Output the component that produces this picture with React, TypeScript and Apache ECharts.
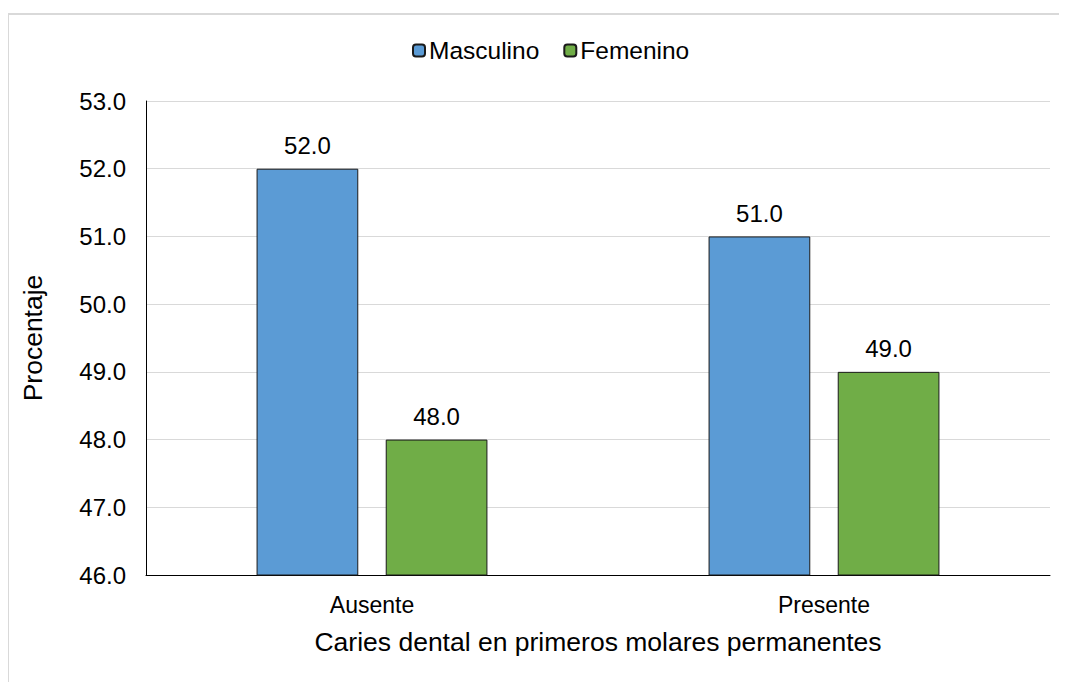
import React, { useEffect, useRef } from "react";
import * as echarts from "echarts";

const categories = ["Ausente", "Presente"];
const masculino = [52.0, 51.0];
const femenino = [48.0, 49.0];
const seriesNames = ["Masculino", "Femenino"];
const yMin = 46;
const yMax = 53;
const yInterval = 1;

export default function App() {
  const ref = useRef<HTMLDivElement>(null);
  useEffect(() => {
    if (!ref.current) return;
    const chart = echarts.init(ref.current, null, { renderer: "svg" });
    const font = "Liberation Sans, Arial, sans-serif";
    const label = {
      show: true,
      position: "top",
      distance: 11,
      fontSize: 24,
      fontFamily: font,
      color: "#000",
      formatter: (p: any) => Number(p.value).toFixed(1),
    };
    chart.setOption({
      animation: false,
      textStyle: { fontFamily: font },
      graphic: [
        {
          type: "rect",
          shape: { x: 0, y: 6, width: 1200, height: 800 },
          style: { fill: "none", stroke: "#d9d9d9", lineWidth: 2 },
          silent: true,
        },
      ],
      legend: {
        top: 30,
        left: 404,
        padding: 0,
        itemWidth: 12,
        itemHeight: 12,
        itemGap: 24,
        textStyle: { fontSize: 24.5, color: "#000", fontFamily: font, padding: [0, 0, 0, -1] },
        data: seriesNames,
      },
      grid: { left: 138, right: 17, top: 93, bottom: 107, containLabel: false },
      xAxis: {
        type: "category",
        data: categories,
        axisLine: { show: true, lineStyle: { color: "#000", width: 1 } },
        axisTick: { show: false },
        axisLabel: { fontSize: 23, color: "#000", margin: 18, fontFamily: font },
        name: "Caries dental en primeros molares permanentes",
        nameLocation: "middle",
        nameGap: 53,
        nameTextStyle: { fontSize: 26.5, color: "#000", fontFamily: font },
      },
      yAxis: {
        type: "value",
        min: yMin,
        max: yMax,
        interval: yInterval,
        axisLine: { show: true, lineStyle: { color: "#000", width: 1 } },
        axisTick: { show: false },
        splitLine: { show: true, lineStyle: { color: "#d9d9d9", width: 1 } },
        axisLabel: {
          fontSize: 24,
          color: "#000",
          margin: 20,
          fontFamily: font,
          formatter: (v: number) => v.toFixed(1),
        },
        name: "Procentaje",
        nameLocation: "middle",
        nameGap: 100,
        nameRotate: 90,
        nameTextStyle: { fontSize: 26.5, color: "#000", fontFamily: font },
      },
      series: [
        {
          name: seriesNames[0],
          type: "bar",
          data: masculino,
          barWidth: "22.5%",
          barGap: "27%",
          itemStyle: { color: "#5B9BD5", borderColor: "#1a1a1a", borderWidth: 1 },
          label,
        },
        {
          name: seriesNames[1],
          type: "bar",
          data: femenino,
          barWidth: "22.5%",
          barGap: "27%",
          itemStyle: { color: "#70AD47", borderColor: "#1a1a1a", borderWidth: 1 },
          label,
        },
      ],
    });
    return () => chart.dispose();
  }, []);
  return <div ref={ref} style={{ width: 1059, height: 674 }} />;
}
